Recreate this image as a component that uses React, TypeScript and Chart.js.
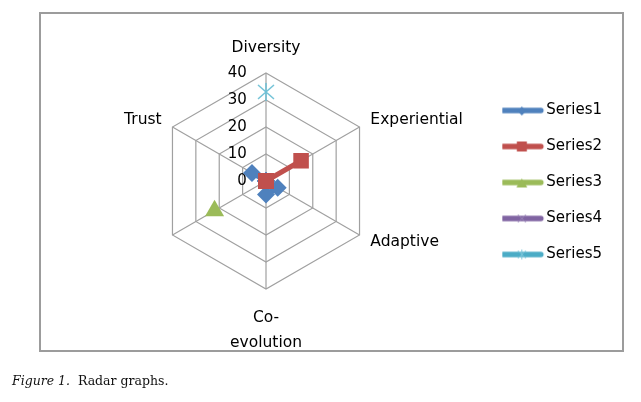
import React, { useEffect, useRef } from "react";
import { Chart, registerables } from "chart.js";

Chart.register(...registerables);

// ---- data ----
const categories = ["Diversity", "Experiential", "Adaptive", "Co-evolution", "", "Trust"];
const seriesNames = ["Series1", "Series2", "Series3", "Series4", "Series5"];
const series1: (number | null)[] = [0, 0, 5, 5, 0, 6];
const series2: (number | null)[] = [0, 15, 0, 0, 0, 0];
const series3: (number | null)[] = [null, null, null, null, 22, null];
const series4: (number | null)[] = [null, null, null, null, null, null];
const series5: (number | null)[] = [33, null, null, null, null, null];
const tickValues = [0, 10, 20, 30, 40];

const colors = ["#4F81BD", "#C0504D", "#9BBB59", "#8064A2", "#4BACC6"];
const pointStyles = ["rectRot", "rect", "triangle", "crossRot", "star"];
const FONT = "'DejaVu Sans', sans-serif";

function labelFor(cat: string, i: number): string | string[] {
  if (i === 0) return ["", cat];
  const h = cat.indexOf("-");
  if (h > 0) return [cat.slice(0, h + 1), cat.slice(h + 1)];
  return cat;
}

function makeStarMarker(color: string): HTMLCanvasElement {
  const c = document.createElement("canvas");
  c.width = 20;
  c.height = 20;
  const g = c.getContext("2d")!;
  g.strokeStyle = color;
  g.lineWidth = 1.5;
  g.beginPath();
  g.moveTo(2, 3);
  g.lineTo(18, 17);
  g.moveTo(18, 3);
  g.lineTo(2, 17);
  g.moveTo(10, 1);
  g.lineTo(10, 19);
  g.stroke();
  return c;
}

function makeIcon(color: string, kind: string): HTMLCanvasElement {
  const c = document.createElement("canvas");
  c.width = 64;
  c.height = 18;
  const g = c.getContext("2d")!;
  const cx = 22.75;
  const cy = 9;
  g.strokeStyle = color;
  g.fillStyle = color;
  g.lineCap = "round";
  g.lineWidth = 5.5;
  g.beginPath();
  g.moveTo(cx - 19, cy);
  g.lineTo(cx + 19, cy);
  g.stroke();
  g.lineCap = "butt";
  g.lineWidth = 1;
  if (kind === "rectRot") {
    g.beginPath();
    g.moveTo(cx, cy - 4);
    g.lineTo(cx + 4.5, cy + 0.5);
    g.lineTo(cx, cy + 5);
    g.lineTo(cx - 4.5, cy + 0.5);
    g.closePath();
    g.fill();
  } else if (kind === "rect") {
    g.fillRect(cx - 5, cy - 5, 10, 10);
  } else if (kind === "triangle") {
    g.beginPath();
    g.moveTo(cx, cy - 4);
    g.lineTo(cx + 5.5, cy + 5);
    g.lineTo(cx - 5.5, cy + 5);
    g.closePath();
    g.fill();
  } else if (kind === "crossRot") {
    g.strokeStyle = "#9a86b8";
    g.beginPath();
    g.moveTo(cx - 4, cy - 4);
    g.lineTo(cx + 4, cy + 4);
    g.moveTo(cx + 4, cy - 4);
    g.lineTo(cx - 4, cy + 4);
    g.stroke();
  } else if (kind === "star") {
    g.strokeStyle = "#7cc6da";
    g.beginPath();
    g.moveTo(cx - 4, cy - 4);
    g.lineTo(cx + 4, cy + 4);
    g.moveTo(cx + 4, cy - 4);
    g.lineTo(cx - 4, cy + 4);
    g.moveTo(cx, cy - 5);
    g.lineTo(cx, cy + 5);
    g.stroke();
  }
  return c;
}

export default function App() {
  const ref = useRef<HTMLCanvasElement | null>(null);

  useEffect(() => {
    if (!ref.current) return;
    const allSeries = [series1, series2, series3, series4, series5];
    const icons = seriesNames.map((_, i) => makeIcon(colors[i], pointStyles[i]));
    const markers: any[] = pointStyles.map((p, i) => (p === "star" ? makeStarMarker("#6fc1d6") : p));
    const radii = [9, 11, 11, 8, 9];
    const chart = new Chart(ref.current, {
      type: "radar",
      data: {
        labels: categories.map(labelFor),
        datasets: allSeries.map((d, i) => ({
          label: seriesNames[i],
          data: d,
          order: seriesNames.length - i,
          borderColor: colors[i],
          backgroundColor: colors[i],
          borderWidth: 5,
          borderJoinStyle: "round" as const,
          borderCapStyle: "round" as const,
          fill: false,
          tension: 0,
          spanGaps: false,
          pointStyle: markers[i],
          pointRadius: radii[i],
          pointBackgroundColor: colors[i],
          pointBorderColor: colors[i],
          pointBorderWidth: i >= 3 ? 1.5 : 0,
        })),
      },
      options: {
        responsive: false,
        animation: false,
        layout: { padding: { left: 60, top: 9, bottom: 46, right: 29 } },
        plugins: {
          tooltip: { enabled: false },
          legend: {
            position: "right",
            align: "center",
            labels: {
              usePointStyle: true,
              pointStyleWidth: 15.5,
              padding: 21,
              color: "#000",
              font: { family: FONT, size: 15 },
              generateLabels: () =>
                seriesNames.map((n, i) => ({
                  text: n,
                  pointStyle: icons[i] as any,
                  fillStyle: colors[i],
                  strokeStyle: colors[i],
                  fontColor: "#000",
                  lineWidth: 0,
                  hidden: false,
                  datasetIndex: i,
                })),
            },
          },
        },
        scales: {
          r: {
            min: tickValues[0],
            max: tickValues[tickValues.length - 1],
            afterBuildTicks: (scale: any) => {
              scale.ticks = [{ value: tickValues[0] }, ...tickValues.map((v) => ({ value: v }))];
            },
            ticks: {
              display: true,
              showLabelBackdrop: false,
              color: "#000",
              font: { family: FONT, size: 15 },
              callback: (v: any) => String(v) + "\u2007".repeat(String(v).length + 4),
            },
            grid: { color: "#a0a0a0", lineWidth: 1.2, circular: false },
            angleLines: { display: true, color: "#a0a0a0", lineWidth: 1.2 },
            pointLabels: {
              color: "#000",
              font: (ctx: any) => ({
                family: FONT,
                size: 15.5,
                lineHeight: ctx.index === 0 || ctx.index === 3 ? "25px" : "2px",
              }),
              padding: (ctx: any) => (ctx.index === 0 ? 3.5 : ctx.index === 3 ? 6.5 : 3),
            },
          },
        },
      },
    });
    return () => chart.destroy();
  }, []);

  return (
    <div style={{ position: "fixed", left: 0, top: 0, width: 641, height: 402, background: "#fff" }}>
      <div
        style={{
          position: "absolute",
          left: 39,
          top: 12,
          width: 585,
          height: 340,
          boxSizing: "border-box",
          border: "2px solid #9c9c9c",
        }}
      />
      <canvas
        ref={ref}
        width={641}
        height={402}
        style={{ position: "absolute", left: 0, top: 0, width: 641, height: 402 }}
      />
      <div
        style={{
          position: "absolute",
          left: 12,
          top: 372,
          fontFamily: "'DejaVu Serif', serif",
          fontSize: 12.5,
          lineHeight: "18px",
          color: "#111",
          whiteSpace: "pre",
        }}
      >
        <i>Figure 1.</i>
        {"  Radar graphs."}
      </div>
    </div>
  );
}
